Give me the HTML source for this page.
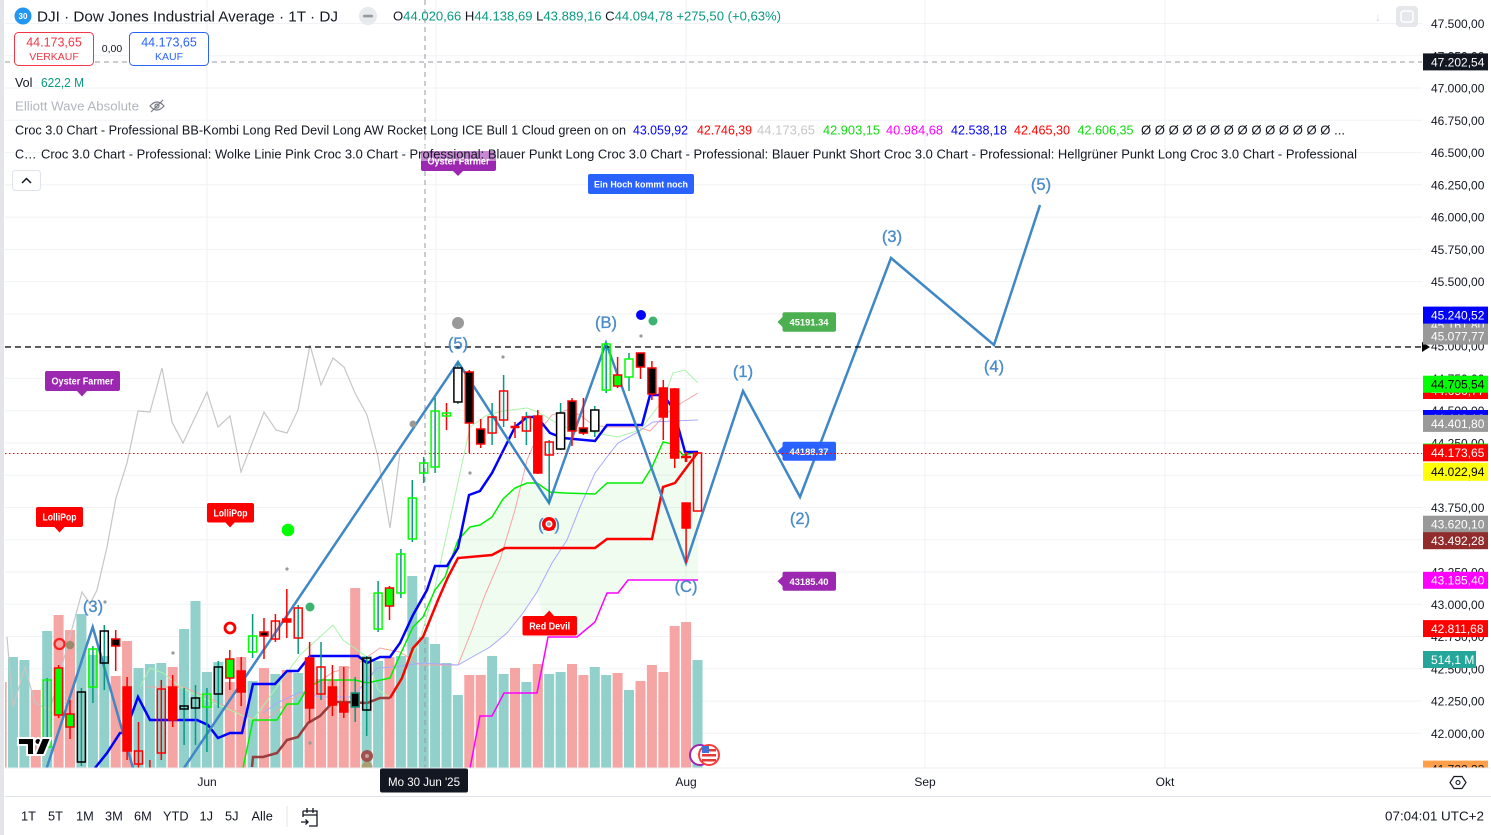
<!DOCTYPE html>
<html><head><meta charset="utf-8"><style>
html,body{margin:0;padding:0;background:#fff;}
svg{display:block;font-family:"Liberation Sans",Arial,sans-serif;}
</style></head><body>
<svg width="1491" height="835" viewBox="0 0 1491 835" xmlns="http://www.w3.org/2000/svg">
<defs><clipPath id="c"><rect x="5" y="0" width="1417" height="768"/></clipPath>
<clipPath id="ax"><rect x="1420" y="0" width="71" height="768"/></clipPath></defs>
<rect width="1491" height="835" fill="#fff"/>
<rect x="0" y="0" width="4" height="835" fill="#e4e5e8"/>

<g clip-path="url(#c)">
<!-- grid -->
<g stroke="#f0f2f5" stroke-width="1">
<line x1="5" x2="1422" y1="23.5" y2="23.5"/><line x1="5" x2="1422" y1="55.8" y2="55.8"/><line x1="5" x2="1422" y1="88" y2="88"/><line x1="5" x2="1422" y1="120.3" y2="120.3"/><line x1="5" x2="1422" y1="152.6" y2="152.6"/><line x1="5" x2="1422" y1="184.8" y2="184.8"/><line x1="5" x2="1422" y1="217.1" y2="217.1"/><line x1="5" x2="1422" y1="249.4" y2="249.4"/><line x1="5" x2="1422" y1="281.6" y2="281.6"/><line x1="5" x2="1422" y1="313.9" y2="313.9"/><line x1="5" x2="1422" y1="346.2" y2="346.2"/><line x1="5" x2="1422" y1="378.4" y2="378.4"/><line x1="5" x2="1422" y1="410.7" y2="410.7"/><line x1="5" x2="1422" y1="443" y2="443"/><line x1="5" x2="1422" y1="475.2" y2="475.2"/><line x1="5" x2="1422" y1="507.5" y2="507.5"/><line x1="5" x2="1422" y1="539.8" y2="539.8"/><line x1="5" x2="1422" y1="572" y2="572"/><line x1="5" x2="1422" y1="604.3" y2="604.3"/><line x1="5" x2="1422" y1="636.5" y2="636.5"/><line x1="5" x2="1422" y1="668.8" y2="668.8"/><line x1="5" x2="1422" y1="701.1" y2="701.1"/><line x1="5" x2="1422" y1="733.3" y2="733.3"/>
<line x1="207" x2="207" y1="0" y2="768"/><line x1="436" x2="436" y1="0" y2="768"/><line x1="686" x2="686" y1="0" y2="768"/><line x1="925" x2="925" y1="0" y2="768"/><line x1="1165" x2="1165" y1="0" y2="768"/>
</g>

<!-- volume -->
<g fill="#92d1cb">
<rect x="8" y="657" width="10" height="111"/><rect x="19.4" y="660" width="10" height="108"/><rect x="42.2" y="631" width="10" height="137"/><rect x="76.4" y="614" width="10" height="154"/><rect x="87.9" y="655" width="10" height="113"/><rect x="99.3" y="656" width="10" height="112"/><rect x="133.5" y="668" width="10" height="100"/><rect x="144.9" y="664" width="10" height="104"/><rect x="156.3" y="663" width="10" height="105"/><rect x="179.1" y="629" width="10" height="139"/><rect x="190.5" y="601" width="10" height="167"/><rect x="201.9" y="672" width="10" height="96"/><rect x="213.3" y="662" width="10" height="106"/><rect x="247.6" y="681" width="10" height="87"/><rect x="270.4" y="674" width="10" height="94"/><rect x="293.2" y="673" width="10" height="95"/><rect x="361.7" y="656" width="10" height="112"/><rect x="373.1" y="661" width="10" height="107"/><rect x="395.9" y="656" width="10" height="112"/><rect x="407.3" y="576" width="10" height="192"/><rect x="418.7" y="637" width="10" height="131"/><rect x="430.1" y="644" width="10" height="124"/><rect x="441.5" y="663" width="10" height="105"/><rect x="452.9" y="695" width="10" height="73"/><rect x="487.1" y="656" width="10" height="112"/><rect x="498.6" y="674" width="10" height="94"/><rect x="521.4" y="682" width="10" height="86"/><rect x="544.2" y="674" width="10" height="94"/><rect x="555.6" y="672" width="10" height="96"/><rect x="589.8" y="667" width="10" height="101"/><rect x="601.2" y="675" width="10" height="93"/><rect x="624" y="690" width="10" height="78"/><rect x="692.5" y="660" width="10" height="108"/>
</g>
<g fill="#f5a5a4">
<rect x="0" y="682" width="6.6" height="86"/><rect x="30.8" y="690" width="10" height="78"/><rect x="53.6" y="615" width="10" height="153"/><rect x="65" y="630" width="10" height="138"/><rect x="110.7" y="676" width="10" height="92"/><rect x="122.1" y="641" width="10" height="127"/><rect x="167.7" y="667" width="10" height="101"/><rect x="224.8" y="682" width="10" height="86"/><rect x="236.2" y="657" width="10" height="111"/><rect x="259" y="668" width="10" height="100"/><rect x="281.8" y="670" width="10" height="98"/><rect x="304.6" y="658" width="10" height="110"/><rect x="316" y="679" width="10" height="89"/><rect x="327.4" y="680" width="10" height="88"/><rect x="338.8" y="666" width="10" height="102"/><rect x="350.2" y="588" width="10" height="180"/><rect x="384.5" y="657" width="10" height="111"/><rect x="464.3" y="675" width="10" height="93"/><rect x="475.7" y="675" width="10" height="93"/><rect x="510" y="668" width="10" height="100"/><rect x="532.8" y="664" width="10" height="104"/><rect x="567" y="664" width="10" height="104"/><rect x="578.4" y="675" width="10" height="93"/><rect x="612.6" y="673" width="10" height="95"/><rect x="635.5" y="681" width="10" height="87"/><rect x="646.9" y="665" width="10" height="103"/><rect x="658.3" y="672" width="10" height="96"/><rect x="669.7" y="626" width="10" height="142"/><rect x="681.1" y="622" width="10" height="146"/>
</g>

<!-- cloud fill -->
<polygon fill="#00c800" fill-opacity="0.06" points="458,540 470,527 480,525 492,517 503,499 515,488 527,483 537,483 550,492 565,493 595,494 607,483 642,483 652,467 663,442 673,444 683,455 698,452 698,580 628,580 618,593 607,593 595,622 577,637 548,637 537,592 523,613 507,633 490,647 458,665"/>

<!-- crosshair -->
<line x1="425" y1="0" x2="425" y2="768" stroke="#9598a1" stroke-width="1" stroke-dasharray="5 4"/>
<line x1="5" y1="62" x2="1422" y2="62" stroke="#9598a1" stroke-width="1" stroke-dasharray="5 4"/>

<!-- thin indicator lines -->
<polyline fill="none" stroke="#c6c6c6" stroke-width="1.2" points="7,637 13,707 25,667 35,703 50,710 82,592 90,604 97,590 107,547 116,498 127,463 138,411 150,412 162,368 172,422 183,443 207,392 218,427 230,416 241,472 264,412 276,430 287,433 298,410 310,345 321,385 333,358 344,367 355,393 367,415 378,457 390,528 400,453"/>
<polyline fill="none" stroke="#f7a3a3" stroke-width="1" points="147,687 183,687 207,697 227,707 263,723 287,702 307,690 333,672 353,667 380,648 400,652 420,665 458,665 472,630 485,595 500,560 515,510 527,460 540,430 552,415 567,410 580,415 593,425 607,427 638,427 650,431 667,413 683,402 698,393"/>
<polyline fill="none" stroke="#a9f3a9" stroke-width="1" points="140,687 150,668 163,673 180,687 200,697 253,720 300,655 333,625 343,640 367,657 378,690 390,697 400,680 420,640 435,587 447,533 470,427 487,415 503,411 527,408 538,412 560,425 573,430 593,432 607,435 618,437 640,430 663,400 673,373 685,370 698,383"/>
<polyline fill="none" stroke="#a8a8ff" stroke-width="1" points="263,713 277,703 300,692 320,697 353,697 377,668 393,667 423,663 458,665 490,647 507,633 523,613 537,592 552,563 567,540 580,507 595,473 607,457 618,443 638,432 653,422 673,421 698,420"/>
<polyline fill="none" stroke="#ff00ff" stroke-width="1.5" points="470,768 480,716 492,716 504,693 537,693 548,637 577,637 595,622 607,593 618,593 628,580 698,580"/>
<polyline fill="none" stroke="#00ee00" stroke-width="1.5" points="243,768 253,720 277,720 287,704 298,704 308,687 322,680 355,680 367,683 390,678 400,655 413,627 423,617 435,590 445,577 458,540 470,527 480,525 492,517 503,499 515,488 527,483 537,483 550,492 565,493 595,494 607,483 642,483 652,467 663,442 673,444 683,455 698,452"/>
<polyline fill="none" stroke="#9a3d3d" stroke-width="2.5" points="252,767 253,757 263,757 277,753 287,740 298,737 308,723 320,716 333,702 345,702 367,703 380,698 390,698"/>
<polyline fill="none" stroke="#ff0000" stroke-width="2.5" points="390,698 402,678 413,648 423,637 438,600 448,577 458,558 492,555 505,548 595,548 607,539 652,539 663,487 675,483 698,452"/>
<polyline fill="none" stroke="#0000ff" stroke-width="2.5" points="95,768 107,753 120,733 125,733 138,697 150,720 197,720 208,725 218,738 230,733 242,733 253,684 275,684 287,671 298,671 310,656 358,656 367,663 380,657 390,657 400,643 413,615 427,590 435,566 447,566 458,548 469,495 480,491 492,473 515,427 527,417 537,417 550,433 563,438 595,441 607,425 642,425 650,395 663,395 673,408 685,452 698,452"/>

<!-- elliott wave -->
<polyline fill="none" stroke="#3f87c7" stroke-width="2.5" points="46.7,768 92.7,627 133,768"/>
<polyline fill="none" stroke="#3f87c7" stroke-width="2.5" stroke-linejoin="miter" points="184,768 458,362 549,503 606,343 686,563 743,391 800,497 891,258 994,345 1040,205"/>

<!-- dashed lines -->
<line x1="5" y1="347" x2="1422" y2="347" stroke="#000" stroke-width="1.2" stroke-dasharray="6 4"/>
<line x1="5" y1="453.5" x2="1422" y2="453.5" stroke="#ff0000" stroke-width="1" stroke-dasharray="1.5 2.5"/>

<!-- candles -->
<g stroke-width="1.5">
<line x1="47.2" y1="678" x2="47.2" y2="748" stroke="#089981"/><rect x="43.2" y="680" width="8" height="67" fill="none" stroke="#00ff00"/>
<line x1="58.6" y1="665" x2="58.6" y2="718" stroke="#ff0000"/><rect x="54.6" y="668" width="8" height="47" fill="#00ff00" stroke="#ff0000"/>
<line x1="70" y1="700" x2="70" y2="739" stroke="#ff0000"/><rect x="66" y="714" width="8" height="13" fill="#00ff00" stroke="#ff0000"/>
<line x1="81.4" y1="688" x2="81.4" y2="766" stroke="#089981"/><rect x="77.4" y="692" width="8" height="70" fill="none" stroke="#000"/>
<line x1="92.9" y1="646" x2="92.9" y2="703" stroke="#089981"/><rect x="88.9" y="649" width="8" height="38" fill="none" stroke="#00ff00"/>
<line x1="104.3" y1="625" x2="104.3" y2="690" stroke="#089981"/><rect x="100.3" y="631" width="8" height="32" fill="none" stroke="#000"/>
<line x1="115.7" y1="630" x2="115.7" y2="671" stroke="#ff0000"/><rect x="111.7" y="639" width="8" height="7" fill="#000" stroke="#ff0000"/>
<line x1="127.1" y1="677" x2="127.1" y2="760" stroke="#ff0000"/><rect x="123.1" y="687" width="8" height="64" fill="#ff0000" stroke="#ff0000"/>
<line x1="138.5" y1="722" x2="138.5" y2="768" stroke="#ff0000"/><rect x="134.5" y="751" width="8" height="13" fill="none" stroke="#ff0000"/>
<line x1="149.9" y1="760" x2="149.9" y2="768" stroke="#ff0000"/>
<line x1="161.3" y1="680" x2="161.3" y2="760" stroke="#ff0000"/><rect x="157.3" y="689" width="8" height="64" fill="none" stroke="#ff0000"/>
<line x1="172.7" y1="675" x2="172.7" y2="727" stroke="#ff0000"/><rect x="168.7" y="687" width="8" height="33" fill="#ff0000" stroke="#ff0000"/>
<line x1="184.1" y1="688" x2="184.1" y2="745" stroke="#089981"/><rect x="180.1" y="706" width="8" height="3" fill="none" stroke="#000"/>
<line x1="195.5" y1="685" x2="195.5" y2="745" stroke="#089981"/><rect x="191.5" y="698" width="8" height="10" fill="none" stroke="#000"/>
<line x1="206.9" y1="688" x2="206.9" y2="752" stroke="#089981"/><rect x="202.9" y="694" width="8" height="13" fill="none" stroke="#00ff00"/>
<line x1="218.3" y1="661" x2="218.3" y2="708" stroke="#089981"/><rect x="214.3" y="667" width="8" height="27" fill="none" stroke="#000"/>
<line x1="229.8" y1="650" x2="229.8" y2="690" stroke="#ff0000"/><rect x="225.8" y="659" width="8" height="19" fill="#00ff00" stroke="#ff0000"/>
<line x1="241.2" y1="657" x2="241.2" y2="706" stroke="#ff0000"/><rect x="237.2" y="671" width="8" height="21" fill="#ff0000" stroke="#ff0000"/>
<line x1="252.6" y1="614" x2="252.6" y2="658" stroke="#089981"/><rect x="248.6" y="636" width="8" height="16" fill="none" stroke="#00ff00"/>
<line x1="264" y1="618" x2="264" y2="659" stroke="#ff0000"/><rect x="260" y="632" width="8" height="4" fill="#000" stroke="#ff0000"/>
<line x1="275.4" y1="614" x2="275.4" y2="642" stroke="#ff0000"/><rect x="271.4" y="621" width="8" height="18" fill="none" stroke="#ff0000"/>
<line x1="286.8" y1="589" x2="286.8" y2="638" stroke="#ff0000"/><rect x="282.8" y="619" width="8" height="3" fill="#ff0000" stroke="#ff0000"/>
<line x1="298.2" y1="605" x2="298.2" y2="654" stroke="#089981"/><rect x="294.2" y="608" width="8" height="30" fill="none" stroke="#ff0000"/>
<line x1="309.6" y1="642" x2="309.6" y2="723" stroke="#ff0000"/><rect x="305.6" y="658" width="8" height="50" fill="#ff0000" stroke="#ff0000"/>
<line x1="321" y1="642" x2="321" y2="700" stroke="#089981"/><rect x="317" y="667" width="8" height="27" fill="none" stroke="#ff0000"/>
<line x1="332.4" y1="665" x2="332.4" y2="716" stroke="#ff0000"/><rect x="328.4" y="687" width="8" height="18" fill="#ff0000" stroke="#ff0000"/>
<line x1="343.8" y1="667" x2="343.8" y2="718" stroke="#ff0000"/><rect x="339.8" y="703" width="8" height="9" fill="#ff0000" stroke="#ff0000"/>
<line x1="355.2" y1="677" x2="355.2" y2="722" stroke="#089981"/><rect x="351.2" y="693" width="8" height="14" fill="#000" stroke="#089981"/>
<line x1="366.7" y1="656" x2="366.7" y2="736" stroke="#089981"/><rect x="362.7" y="658" width="8" height="52" fill="none" stroke="#000"/>
<line x1="378.1" y1="581" x2="378.1" y2="632" stroke="#089981"/><rect x="374.1" y="593" width="8" height="36" fill="none" stroke="#00ff00"/>
<line x1="389.5" y1="586" x2="389.5" y2="620" stroke="#ff0000"/><rect x="385.5" y="588" width="8" height="18" fill="#00ff00" stroke="#ff0000"/>
<line x1="400.9" y1="549" x2="400.9" y2="598" stroke="#089981"/><rect x="396.9" y="554" width="8" height="39" fill="none" stroke="#00ff00"/>
<line x1="412.3" y1="480" x2="412.3" y2="542" stroke="#089981"/><rect x="408.3" y="498" width="8" height="41" fill="none" stroke="#00ff00"/>
<line x1="423.7" y1="457" x2="423.7" y2="483" stroke="#089981"/><rect x="419.7" y="463" width="8" height="10" fill="none" stroke="#00ff00"/>
<line x1="435.1" y1="398" x2="435.1" y2="473" stroke="#089981"/><rect x="431.1" y="411" width="8" height="56" fill="none" stroke="#00ff00"/>
<line x1="446.5" y1="403" x2="446.5" y2="430" stroke="#ff0000"/><rect x="442.5" y="413" width="8" height="3" fill="none" stroke="#00ff00"/>
<line x1="457.9" y1="362" x2="457.9" y2="404" stroke="#089981"/><rect x="453.9" y="368" width="8" height="34" fill="#fff" stroke="#000"/>
<line x1="469.3" y1="370" x2="469.3" y2="453" stroke="#ff0000"/><rect x="465.3" y="372" width="8" height="51" fill="#000" stroke="#ff0000"/>
<line x1="480.7" y1="419" x2="480.7" y2="448" stroke="#ff0000"/><rect x="476.7" y="429" width="8" height="15" fill="#000" stroke="#ff0000"/>
<line x1="492.1" y1="403" x2="492.1" y2="445" stroke="#089981"/><rect x="488.1" y="417" width="8" height="16" fill="none" stroke="#ff0000"/>
<line x1="503.6" y1="375" x2="503.6" y2="427" stroke="#089981"/><rect x="499.6" y="391" width="8" height="29" fill="none" stroke="#ff0000"/>
<line x1="515" y1="422" x2="515" y2="438" stroke="#ff0000"/><line x1="510.5" y1="427" x2="519.5" y2="427" stroke="#ff0000" stroke-width="2.5"/>
<line x1="526.4" y1="412" x2="526.4" y2="445" stroke="#089981"/><rect x="522.4" y="417" width="8" height="14" fill="none" stroke="#ff0000"/>
<line x1="537.8" y1="410" x2="537.8" y2="474" stroke="#ff0000"/><rect x="533.8" y="416" width="8" height="57" fill="#ff0000" stroke="#ff0000"/>
<line x1="549.2" y1="440" x2="549.2" y2="503" stroke="#089981"/><rect x="545.2" y="442" width="8" height="13" fill="none" stroke="#ff0000"/>
<line x1="560.6" y1="403" x2="560.6" y2="450" stroke="#089981"/><rect x="556.6" y="413" width="8" height="36" fill="#fff" stroke="#000"/>
<line x1="572" y1="398" x2="572" y2="446" stroke="#ff0000"/><rect x="568" y="401" width="8" height="30" fill="#000" stroke="#ff0000"/>
<line x1="583.4" y1="398" x2="583.4" y2="435" stroke="#ff0000"/><rect x="579.4" y="428" width="8" height="5" fill="#000" stroke="#ff0000"/>
<line x1="594.8" y1="406" x2="594.8" y2="437" stroke="#089981"/><rect x="590.8" y="410" width="8" height="21" fill="#fff" stroke="#000"/>
<line x1="606.2" y1="343" x2="606.2" y2="393" stroke="#089981"/><rect x="602.2" y="344" width="8" height="46" fill="none" stroke="#00ff00"/>
<line x1="617.6" y1="357" x2="617.6" y2="388" stroke="#ff0000"/><rect x="613.6" y="375" width="8" height="11" fill="#00ff00" stroke="#ff0000"/>
<line x1="629" y1="353" x2="629" y2="391" stroke="#089981"/><rect x="625" y="359" width="8" height="18" fill="#fff" stroke="#00ff00"/>
<line x1="640.5" y1="353" x2="640.5" y2="379" stroke="#ff0000"/><rect x="636.5" y="353" width="8" height="14" fill="#000" stroke="#ff0000"/>
<line x1="651.9" y1="361" x2="651.9" y2="400" stroke="#ff0000"/><rect x="647.9" y="368" width="8" height="26" fill="#000" stroke="#ff0000"/>
<line x1="663.3" y1="380" x2="663.3" y2="440" stroke="#ff0000"/><rect x="659.3" y="388" width="8" height="29" fill="#ff0000" stroke="#ff0000"/>
<line x1="674.7" y1="388" x2="674.7" y2="468" stroke="#ff0000"/><rect x="670.7" y="389" width="8" height="69" fill="#ff0000" stroke="#ff0000"/>
<line x1="686.1" y1="503" x2="686.1" y2="563" stroke="#ff0000"/><rect x="682.1" y="503" width="8" height="25" fill="#ff0000" stroke="#ff0000"/>
<rect x="693.5" y="453" width="8" height="58" fill="none" stroke="#ff0000"/>
</g>

<!-- markers -->
<circle cx="458" cy="323" r="6" fill="#999"/>
<circle cx="641" cy="315" r="5" fill="#0000ff"/>
<circle cx="653" cy="321" r="4.5" fill="#3cb371"/>
<g fill="#999"><circle cx="503" cy="357" r="1.6"/><circle cx="470" cy="473" r="1.6"/><circle cx="641" cy="336" r="1.6"/><circle cx="287" cy="569" r="1.6"/><circle cx="173" cy="653" r="1.6"/><circle cx="105" cy="602" r="1.6"/><circle cx="310" cy="743" r="1.6"/><circle cx="413" cy="424" r="3.5"/></g>
<circle cx="288" cy="530" r="6.3" fill="#00ff00"/>
<circle cx="310" cy="607" r="4.5" fill="#3cb371"/>
<circle cx="230" cy="628" r="5" fill="#fff" stroke="#ff0000" stroke-width="2.8"/>
<circle cx="59.5" cy="644" r="5" fill="#f5a5a4" stroke="#ff2020" stroke-width="2.2"/>
<circle cx="70" cy="645" r="4.3" fill="#9b8b6c"/>
<circle cx="367" cy="767" r="5.5" fill="#a8a070"/>
<circle cx="367" cy="756" r="6" fill="#a0524d"/><circle cx="367" cy="756" r="2" fill="#c9a0a0"/>
<path d="M681,457 h10 M686,452 v10" stroke="#ff0000" stroke-width="2.6"/>

<!-- wave labels -->
<g fill="#4b8bca" font-size="16.5" text-anchor="middle" stroke="#4b8bca" stroke-width="0.35">
<text x="93" y="612">(3)</text>
<text x="458" y="349">(5)</text>
<text x="549" y="530">(A)</text>
<text x="606" y="328">(B)</text>
<text x="686" y="592">(C)</text>
<text x="743" y="377">(1)</text>
<text x="800" y="524">(2)</text>
<text x="892" y="242">(3)</text>
<text x="994" y="372">(4)</text>
<text x="1041" y="190">(5)</text>
</g>
<circle cx="549" cy="524" r="7" fill="#ff0000"/><circle cx="549" cy="524" r="3.5" fill="#fff"/><circle cx="549" cy="524" r="2" fill="#aaa"/>

<!-- callouts -->
<g font-weight="bold" font-size="10" fill="#fff" text-anchor="middle">
<rect x="45" y="371" width="75" height="20" rx="2" fill="#9c27b0"/><polygon points="77,391 87,391 82,396.5" fill="#9c27b0"/>
<text x="82.5" y="384.5" textLength="62" lengthAdjust="spacingAndGlyphs">Oyster Farmer</text>
<rect x="36" y="507" width="47" height="20" rx="2" fill="#ff0000"/><polygon points="54.5,527 64.5,527 59.5,532.5" fill="#ff0000"/>
<text x="59.5" y="520.5" textLength="34" lengthAdjust="spacingAndGlyphs">LolliPop</text>
<rect x="207" y="503" width="47" height="19.5" rx="2" fill="#ff0000"/><polygon points="225,522 235,522 230,527.5" fill="#ff0000"/>
<text x="230.5" y="516.3" textLength="34" lengthAdjust="spacingAndGlyphs">LolliPop</text>
<rect x="421" y="151" width="75" height="20" rx="2" fill="#9c27b0"/><polygon points="453,171 463,171 458,176" fill="#9c27b0"/>
<text x="458.5" y="164.5" textLength="62" lengthAdjust="spacingAndGlyphs">Oyster Farmer</text>
<rect x="588" y="174" width="106" height="20" rx="2" fill="#2962ff"/>
<text x="641" y="187.5" font-size="9.5" textLength="94" lengthAdjust="spacingAndGlyphs">Ein Hoch kommt noch</text>
<rect x="522.5" y="616" width="54.5" height="19.5" rx="2" fill="#ff0000"/><polygon points="544,616 554,616 549.3,610.5" fill="#ff0000"/>
<text x="549.7" y="629.5" textLength="41" lengthAdjust="spacingAndGlyphs">Red Devil</text>
<rect x="782.5" y="312.3" width="53.5" height="19.4" rx="2" fill="#4caf50"/><polygon points="783,316.5 783,327.5 777.5,322" fill="#4caf50"/>
<text x="809" y="325.5" font-size="9.5" textLength="39" lengthAdjust="spacingAndGlyphs">45191.34</text>
<rect x="782.5" y="441.7" width="53.5" height="19" rx="2" fill="#2962ff"/><polygon points="783,446 783,456.5 777.5,451.2" fill="#2962ff"/>
<text x="809" y="454.8" font-size="9.5" textLength="39" lengthAdjust="spacingAndGlyphs">44188.37</text>
<rect x="782.5" y="571.7" width="53.5" height="19" rx="2" fill="#9c27b0"/><polygon points="783,576 783,586.5 777.5,581.2" fill="#9c27b0"/>
<text x="809" y="584.8" font-size="9.5" textLength="39" lengthAdjust="spacingAndGlyphs">43185.40</text>
</g>
<line x1="778" y1="453.5" x2="836" y2="453.5" stroke="#ff0000" stroke-width="1" stroke-dasharray="1.5 2.5"/>

<!-- TV logo -->
<g stroke="#fff" stroke-width="2" stroke-linejoin="round">
<polygon points="18,738 34,738 34,755 27,755 27,745 18,745" fill="#000"/>
<circle cx="38" cy="741.5" r="3.5" fill="#000"/>
<polygon points="42,738 51,738 44,755 35,755" fill="#000"/>
</g>
<!-- bottom icons -->
<circle cx="700" cy="755" r="10" fill="#fff" stroke="#9c27b0" stroke-width="2"/>
<circle cx="709" cy="755" r="10" fill="#fff" stroke="#ff3b3b" stroke-width="2"/>
<rect x="702" y="749" width="14" height="2.5" fill="#e53935"/><rect x="702" y="754" width="14" height="2.5" fill="#e53935"/><rect x="702" y="759" width="14" height="2.5" fill="#e53935"/><rect x="702" y="746" width="7" height="7" fill="#3f6fd8"/>

<!-- top right icons -->
<text x="1378" y="21" font-size="12" fill="#d1d4dc" text-anchor="middle">↓</text>
<rect x="1396" y="6" width="22" height="21" rx="4" fill="#e6e7ea"/>
<rect x="1401" y="11" width="12" height="11" rx="2.5" fill="none" stroke="#fff" stroke-width="1.5"/>
</g>

<!-- price axis ticks -->
<g font-size="12" fill="#131722">
<text x="1431" y="28">47.500,00</text><text x="1431" y="60.3">47.250,00</text><text x="1431" y="92.5">47.000,00</text><text x="1431" y="124.8">46.750,00</text><text x="1431" y="157.1">46.500,00</text><text x="1431" y="189.3">46.250,00</text><text x="1431" y="221.6">46.000,00</text><text x="1431" y="253.9">45.750,00</text><text x="1431" y="286.1">45.500,00</text><text x="1431" y="318.4">45.250,00</text><text x="1431" y="350.7">45.000,00</text><text x="1431" y="382.9">44.750,00</text><text x="1431" y="415.2">44.500,00</text><text x="1431" y="447.5">44.250,00</text><text x="1431" y="479.7">44.000,00</text><text x="1431" y="512">43.750,00</text><text x="1431" y="544.3">43.500,00</text><text x="1431" y="576.5">43.250,00</text><text x="1431" y="608.8">43.000,00</text><text x="1431" y="641">42.750,00</text><text x="1431" y="673.3">42.500,00</text><text x="1431" y="705.6">42.250,00</text><text x="1431" y="737.8">42.000,00</text>
</g>
<polygon points="1422,342 1430,347 1422,352" fill="#000"/>

<!-- price axis labels -->
<g font-size="12" clip-path="url(#ax)">
<rect x="1423" y="53.4" width="65" height="17" fill="#131722"/><text x="1431" y="66.3" fill="#fff">47.202,54</text>
<rect x="1423" y="316.5" width="65" height="17" fill="#999"/><text x="1431" y="329.4" fill="#fff">45.161,80</text>
<rect x="1423" y="306.6" width="65" height="17" fill="#0000ff"/><text x="1431" y="319.5" fill="#fff">45.240,52</text>
<rect x="1423" y="327.6" width="65" height="17" fill="#999"/><text x="1431" y="340.5" fill="#fff">45.077,77</text>
<rect x="1423" y="382" width="65" height="17" fill="#ff0000"/><text x="1431" y="394.9" fill="#fff">44.656,77</text>
<rect x="1423" y="375.7" width="65" height="17" fill="#00ff00"/><text x="1431" y="388.6" fill="#000">44.705,54</text>
<rect x="1423" y="410" width="65" height="17" fill="#0000ff"/><text x="1431" y="422.9" fill="#fff">44.440,12</text>
<rect x="1423" y="414.9" width="65" height="17" fill="#999"/><text x="1431" y="427.8" fill="#fff">44.401,80</text>
<rect x="1423" y="443.5" width="65" height="2" fill="#00ff00"/>
<rect x="1423" y="444.3" width="65" height="17" fill="#ff0000"/><text x="1431" y="457.2" fill="#fff">44.173,65</text>
<rect x="1423" y="462.8" width="65" height="18" fill="#ffff00"/><text x="1431" y="476.2" fill="#000">44.022,94</text>
<rect x="1423" y="515.7" width="65" height="17" fill="#999"/><text x="1431" y="528.6" fill="#fff">43.620,10</text>
<rect x="1423" y="532.2" width="65" height="17" fill="#922b2b"/><text x="1431" y="545.1" fill="#fff">43.492,28</text>
<rect x="1423" y="571.8" width="65" height="17" fill="#ff00ff"/><text x="1431" y="584.7" fill="#fff">43.185,40</text>
<rect x="1423" y="620.1" width="65" height="17" fill="#ff0000"/><text x="1431" y="633" fill="#fff">42.811,68</text>
<rect x="1423" y="651" width="53" height="17" fill="#26a69a"/><text x="1431" y="663.9" fill="#fff">514,1 M</text>
<rect x="1423" y="760.6" width="65" height="17" fill="#ff9f4a"/><text x="1431" y="773.5" fill="#131722">41.722,33</text>
</g>

<!-- header / legend -->
<circle cx="23" cy="16" r="8.5" fill="#2196f3"/>
<text x="23" y="19" font-size="8" font-weight="bold" fill="#fff" text-anchor="middle">30</text>
<text x="37" y="21.5" font-size="15" fill="#131722" textLength="301" lengthAdjust="spacingAndGlyphs">DJI · Dow Jones Industrial Average · 1T · DJ</text>
<circle cx="368" cy="16" r="9" fill="#e8e9ec"/><rect x="363" y="14.8" width="10" height="2.6" rx="1" fill="#9598a1"/>
<text x="393" y="20.5" font-size="12.5" fill="#131722" textLength="388" lengthAdjust="spacingAndGlyphs">O<tspan fill="#089981">44.020,66</tspan> H<tspan fill="#089981">44.138,69</tspan> L<tspan fill="#089981">43.889,16</tspan> C<tspan fill="#089981">44.094,78</tspan> <tspan fill="#089981">+275,50 (+0,63%)</tspan></text>

<rect x="14.5" y="32.5" width="79" height="33" rx="4" fill="#fff" stroke="#f23645"/>
<text x="54" y="46.5" font-size="12.5" fill="#f23645" text-anchor="middle">44.173,65</text>
<text x="54" y="60" font-size="10.5" fill="#f23645" text-anchor="middle">VERKAUF</text>
<text x="112" y="52" font-size="10.5" fill="#131722" text-anchor="middle">0,00</text>
<rect x="129.5" y="32.5" width="79" height="33" rx="4" fill="#fff" stroke="#2962ff"/>
<text x="169" y="46.5" font-size="12.5" fill="#2962ff" text-anchor="middle">44.173,65</text>
<text x="169" y="60" font-size="10.5" fill="#2962ff" text-anchor="middle">KAUF</text>

<text x="15" y="87" font-size="12.5" fill="#131722">Vol</text>
<text x="41" y="87" font-size="12.5" fill="#089981" textLength="43" lengthAdjust="spacingAndGlyphs">622,2 M</text>
<text x="15" y="110.5" font-size="12.5" fill="#b2b5be" textLength="124" lengthAdjust="spacingAndGlyphs">Elliott Wave Absolute</text>
<g fill="none" stroke="#787b86" stroke-width="1.2"><path d="M150,106 Q157,98 164,106 Q157,114 150,106 Z"/><circle cx="157" cy="106" r="2"/><line x1="151" y1="112" x2="163" y2="100"/></g>

<g font-size="12.5">
<text x="15" y="134.5" fill="#131722" textLength="611" lengthAdjust="spacingAndGlyphs">Croc 3.0 Chart - Professional BB-Kombi Long Red Devil Long AW Rocket Long ICE Bull 1 Cloud green on on</text>
<text x="633" y="134.5" fill="#0000ff" textLength="55" lengthAdjust="spacingAndGlyphs">43.059,92</text>
<text x="697" y="134.5" fill="#ff0000" textLength="55" lengthAdjust="spacingAndGlyphs">42.746,39</text>
<text x="757" y="134.5" fill="#c6c6c6" textLength="58" lengthAdjust="spacingAndGlyphs">44.173,65</text>
<text x="823" y="134.5" fill="#12d812" textLength="57" lengthAdjust="spacingAndGlyphs">42.903,15</text>
<text x="886" y="134.5" fill="#ff00ff" textLength="57" lengthAdjust="spacingAndGlyphs">40.984,68</text>
<text x="951" y="134.5" fill="#0000ff" textLength="56" lengthAdjust="spacingAndGlyphs">42.538,18</text>
<text x="1014" y="134.5" fill="#ff0000" textLength="56" lengthAdjust="spacingAndGlyphs">42.465,30</text>
<text x="1077.5" y="134.5" fill="#12d812" textLength="56" lengthAdjust="spacingAndGlyphs">42.606,35</text>
<text x="1141" y="134.5" fill="#131722" textLength="204" lengthAdjust="spacingAndGlyphs">Ø Ø Ø Ø Ø Ø Ø Ø Ø Ø Ø Ø Ø Ø ...</text>
</g>
<rect x="418" y="145" width="82" height="16" fill="#fff" fill-opacity="0.45"/>
<text x="15" y="158.5" font-size="12.5" fill="#131722">C…</text>
<text x="41" y="158.5" font-size="12.5" fill="#131722" textLength="1316" lengthAdjust="spacingAndGlyphs">Croc 3.0 Chart - Professional: Wolke Linie Pink Croc 3.0 Chart - Professional: Blauer Punkt Long Croc 3.0 Chart - Professional: Blauer Punkt Short Croc 3.0 Chart - Professional: Hellgrüner Punkt Long Croc 3.0 Chart - Professional</text>
<rect x="12.5" y="170.5" width="28" height="20" rx="3" fill="#fff" stroke="#e0e3eb"/>
<path d="M22,183 L26.5,178.5 L31,183" fill="none" stroke="#131722" stroke-width="1.5"/>

<!-- time axis -->
<line x1="5" y1="768" x2="1491" y2="768" stroke="#eceef2" stroke-width="1"/>
<g font-size="12" fill="#131722" text-anchor="middle">
<text x="207" y="786">Jun</text>
<text x="686" y="786">Aug</text>
<text x="925" y="786">Sep</text>
<text x="1165" y="786">Okt</text>
</g>
<rect x="380" y="768.5" width="88" height="24" rx="2" fill="#131722"/>
<text x="424" y="786" font-size="12" fill="#fff" text-anchor="middle" textLength="72" lengthAdjust="spacingAndGlyphs">Mo 30 Jun '25</text>
<polygon points="1454,776.5 1462,776.5 1466,782.5 1462,788.5 1454,788.5 1450,782.5" fill="none" stroke="#131722" stroke-width="1.2"/>
<circle cx="1458" cy="782.5" r="2" fill="none" stroke="#131722" stroke-width="1.1"/>

<!-- bottom toolbar -->
<line x1="5" y1="796.5" x2="1491" y2="796.5" stroke="#e0e3eb" stroke-width="1"/>
<g font-size="12.8" fill="#131722">
<text x="21" y="820.5">1T</text><text x="48" y="820.5">5T</text><text x="76" y="820.5">1M</text><text x="105" y="820.5">3M</text><text x="134" y="820.5">6M</text><text x="163" y="820.5">YTD</text><text x="199.5" y="820.5">1J</text><text x="225" y="820.5">5J</text><text x="251.5" y="820.5">Alle</text>
</g>
<line x1="287" y1="806" x2="287" y2="827" stroke="#e0e3eb"/>
<g fill="none" stroke="#131722" stroke-width="1.3"><path d="M303,811 h14 v15 h-8 M303,811 v6 M303,815 h14 M307,808 v5 M313,808 v5"/><path d="M301,822 h7 M305.5,819.5 l2.5,2.5 l-2.5,2.5"/></g>
<text x="1385" y="820.5" font-size="13.3" fill="#131722" textLength="99" lengthAdjust="spacingAndGlyphs">07:04:01 UTC+2</text>
</svg>
</body></html>
